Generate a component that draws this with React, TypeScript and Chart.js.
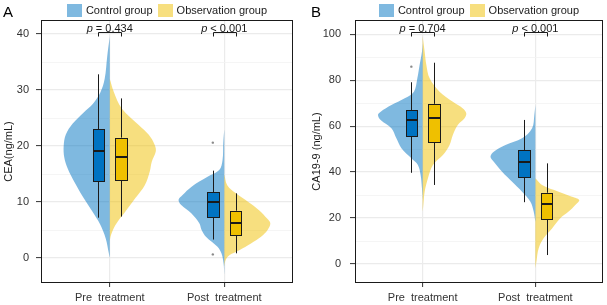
import React, { useEffect, useRef } from 'react';
import { Chart, registerables } from 'chart.js';
Chart.register(...registerables);

// ---------- shared ----------
const categories = ['Pre  treatment', 'Post  treatment'];
const groupNames = ['Control group', 'Observation group'];
const groupColors = ['#0073C2', '#EFC000'];
const groupViolinColors = ['rgba(0,115,194,0.5)', 'rgba(239,192,0,0.5)'];

// ---------- Panel A : CEA ----------
const ceaTickLabels = [0, 10, 20, 30, 40];
const ceaMinorTicks = [5, 15, 25, 35];
const ceaPLabels = ['= 0.434', '< 0.001'];

// violin outlines: levels (value) and half-widths (x units)
const ceaPreControlLevels = [39.5, 36, 32, 29.5, 27.5, 26, 24, 22, 20, 18, 16, 13.5, 11, 8.5, 6, 3.5, 1, 0];
const ceaPreControlWidths = [0, 0.022, 0.044, 0.083, 0.148, 0.227, 0.323, 0.384, 0.402, 0.397, 0.367, 0.306, 0.236, 0.157, 0.083, 0.035, 0.009, 0];
const ceaPreObsLevels = [32, 29.7, 26.7, 23.75, 22.0, 20.2, 19.0, 17.2, 15.4, 13.0, 10.7, 8.3, 5.9, 4.1, 3.0];
const ceaPreObsWidths = [0, 0.035, 0.105, 0.253, 0.341, 0.393, 0.402, 0.367, 0.349, 0.306, 0.224, 0.137, 0.05, 0.011, 0];
const ceaPostControlLevels = [23, 20.5, 17.5, 15.7, 14.5, 12.7, 11.25, 10.4, 9.5, 8.0, 6.2, 5.0, 3.8, 2.0, 0.8, -1, -3];
const ceaPostControlWidths = [0, 0.009, 0.015, 0.044, 0.146, 0.288, 0.364, 0.399, 0.378, 0.288, 0.218, 0.198, 0.16, 0.059, 0.024, 0.006, 0];
const ceaPostObsLevels = [15, 13, 11.5, 10, 8.5, 7, 6.2, 5.0, 3.8, 2.6, 1.4, 0.5, -0.3, -1.5];
const ceaPostObsWidths = [0, 0.026, 0.105, 0.21, 0.306, 0.376, 0.402, 0.378, 0.321, 0.233, 0.131, 0.044, 0.013, 0];

// boxplots: [lower whisker, q1, median, q3, upper whisker]
const ceaPreControlBox = [7.2, 13.75, 19.1, 23.0, 32.8];
const ceaPreObsBox = [7.4, 13.9, 18.1, 21.5, 28.5];
const ceaPostControlBox = [3.3, 7.4, 10.05, 11.7, 15.6];
const ceaPostObsBox = [0.84, 4.1, 6.2, 8.45, 11.55];
const ceaPostControlOutliers = [20.6, 0.65];

// ---------- Panel B : CA19-9 ----------
const caTickLabels = [0, 20, 40, 60, 80, 100];
const caMinorTicks = [10, 30, 50, 70, 90];
const caPLabels = ['= 0.704', '< 0.001'];

const caPreControlLevels = [96, 92.4, 86.6, 80.8, 75.0, 72.1, 69.2, 66.3, 64.9, 62.7, 59.1, 54.7, 50.4, 46.0, 43.1, 38.7, 33.0, 28];
const caPreControlWidths = [0, 0.006, 0.027, 0.047, 0.077, 0.159, 0.277, 0.372, 0.396, 0.372, 0.277, 0.233, 0.188, 0.1, 0.042, 0.018, 0.006, 0];
const caPreObsLevels = [99, 92.4, 86.6, 80.8, 75.0, 70.6, 67.7, 65.6, 63.4, 60.5, 56.2, 51.8, 47.4, 43.1, 37.3, 31.4, 25.6, 22.7];
const caPreObsWidths = [0, 0.018, 0.033, 0.062, 0.15, 0.268, 0.357, 0.387, 0.372, 0.312, 0.268, 0.239, 0.18, 0.091, 0.047, 0.018, 0.006, 0];
const caPostControlLevels = [69.2, 64.9, 59.1, 54.7, 51.8, 48.9, 46.7, 44.5, 40.2, 35.8, 31.5, 27.1, 22.8, 18.4];
const caPostControlWidths = [0, 0.009, 0.029, 0.118, 0.265, 0.369, 0.398, 0.369, 0.295, 0.206, 0.118, 0.044, 0.015, 0];
const caPostObsLevels = [37.3, 34.4, 31.5, 29.3, 27.9, 25.7, 22.8, 19.9, 15.5, 11.2, 6.8, 1.0, -1.9];
const caPostObsWidths = [0, 0.059, 0.206, 0.325, 0.389, 0.354, 0.295, 0.221, 0.148, 0.073, 0.029, 0.009, 0];

const caPreControlBox = [39.7, 55.9, 62.7, 66.9, 79.1];
const caPreObsBox = [34.4, 53.0, 63.4, 69.7, 87.6];
const caPostControlBox = [26.9, 38.0, 44.5, 49.6, 62.7];
const caPostObsBox = [3.9, 19.4, 26.1, 31.0, 43.8];
const caPreControlOutliers = [85.9];

const FONT = 'Liberation Sans, Arial, Helvetica, sans-serif';

type Violin = { cat: number; group: number; levels: number[]; widths: number[] };
type Box = { cat: number; group: number; stats: number[] };
type Outlier = { cat: number; group: number; values: number[] };

type Panel = {
  letter: string;
  yTitle: string;
  yMin: number;
  yMax: number;
  ticks: number[];
  minor: number[];
  pLabels: string[];
  bracketY: number;
  violins: Violin[];
  boxes: Box[];
  outliers: Outlier[];
  canvasLeft: number;
  canvasWidth: number;
  yAxisWidth: number;
  padRight: number;
  titlePad: number;
  tickPad: number;
  letterX: number;
};

const BOX_OFFSET = 0.1;
const BOX_WIDTH = 0.1;

const panels: Panel[] = [
  {
    letter: 'A',
    yTitle: 'CEA(ng/mL)',
    yMin: -4.46,
    yMax: 42.5,
    ticks: ceaTickLabels,
    minor: ceaMinorTicks,
    pLabels: ceaPLabels,
    bracketY: 40.3,
    violins: [
      { cat: 1, group: 0, levels: ceaPreControlLevels, widths: ceaPreControlWidths },
      { cat: 1, group: 1, levels: ceaPreObsLevels, widths: ceaPreObsWidths },
      { cat: 2, group: 0, levels: ceaPostControlLevels, widths: ceaPostControlWidths },
      { cat: 2, group: 1, levels: ceaPostObsLevels, widths: ceaPostObsWidths },
    ],
    boxes: [
      { cat: 1, group: 0, stats: ceaPreControlBox },
      { cat: 1, group: 1, stats: ceaPreObsBox },
      { cat: 2, group: 0, stats: ceaPostControlBox },
      { cat: 2, group: 1, stats: ceaPostObsBox },
    ],
    outliers: [{ cat: 2, group: 0, values: ceaPostControlOutliers }],
    canvasLeft: 0,
    canvasWidth: 300,
    yAxisWidth: 41,
    padRight: 7,
    titlePad: 2,
    tickPad: 7,
    letterX: 3,
  },
  {
    letter: 'B',
    yTitle: 'CA19-9 (ng/mL)',
    yMin: -8.27,
    yMax: 106.2,
    ticks: caTickLabels,
    minor: caMinorTicks,
    pLabels: caPLabels,
    bracketY: 100.9,
    violins: [
      { cat: 1, group: 0, levels: caPreControlLevels, widths: caPreControlWidths },
      { cat: 1, group: 1, levels: caPreObsLevels, widths: caPreObsWidths },
      { cat: 2, group: 0, levels: caPostControlLevels, widths: caPostControlWidths },
      { cat: 2, group: 1, levels: caPostObsLevels, widths: caPostObsWidths },
    ],
    boxes: [
      { cat: 1, group: 0, stats: caPreControlBox },
      { cat: 1, group: 1, stats: caPreObsBox },
      { cat: 2, group: 0, stats: caPostControlBox },
      { cat: 2, group: 1, stats: caPostObsBox },
    ],
    outliers: [{ cat: 1, group: 0, values: caPreControlOutliers }],
    canvasLeft: 300,
    canvasWidth: 307,
    yAxisWidth: 55,
    padRight: 4,
    titlePad: 10,
    tickPad: 9,
    letterX: 11,
  },
];

function crisp(v: number) {
  return Math.round(v) + 0.5;
}

function makeChart(canvas: HTMLCanvasElement, p: Panel) {
  const datasets: any[] = p.violins.map((v) => {
    const side = v.group === 0 ? -1 : 1;
    return {
      type: 'scatter',
      data: v.levels.map((lv, i) => ({ x: v.cat + side * v.widths[i], y: lv })),
      showLine: true,
      borderWidth: 0,
      borderColor: 'rgba(0,0,0,0)',
      pointRadius: 0,
      backgroundColor: groupViolinColors[v.group],
      fill: 'shape',
      tension: 0.35,
    };
  });
  p.outliers.forEach((o) => {
    const side = o.group === 0 ? -1 : 1;
    datasets.push({
      type: 'scatter',
      data: o.values.map((val) => ({ x: o.cat + side * BOX_OFFSET, y: val })),
      pointRadius: 1.2,
      pointBackgroundColor: '#8a8a8a',
      pointBorderWidth: 0,
      showLine: false,
    });
  });

  const allTicks = [...p.ticks, ...p.minor].sort((a, b) => a - b);
  const isMajor = (v: number) => p.ticks.includes(v);

  const overlay = {
    id: 'overlay',
    afterDatasetsDraw(chart: any) {
      const ctx = chart.ctx;
      const xs = chart.scales.x;
      const ys = chart.scales.y;
      ctx.save();
      // boxplots
      p.boxes.forEach((b) => {
        const side = b.group === 0 ? -1 : 1;
        const c = b.cat + side * BOX_OFFSET;
        const xl = Math.round(xs.getPixelForValue(c - BOX_WIDTH / 2));
        const xr = Math.round(xs.getPixelForValue(c + BOX_WIDTH / 2));
        const xc = crisp(xs.getPixelForValue(c));
        const [lo, q1, med, q3, hi] = b.stats;
        ctx.strokeStyle = '#1a1a1a';
        ctx.lineWidth = 1;
        ctx.beginPath();
        ctx.moveTo(xc, ys.getPixelForValue(hi));
        ctx.lineTo(xc, ys.getPixelForValue(q3));
        ctx.moveTo(xc, ys.getPixelForValue(q1));
        ctx.lineTo(xc, ys.getPixelForValue(lo));
        ctx.stroke();
        const yt = Math.round(ys.getPixelForValue(q3));
        const yb = Math.round(ys.getPixelForValue(q1));
        ctx.fillStyle = groupColors[b.group];
        ctx.fillRect(xl, yt, xr - xl, yb - yt);
        ctx.strokeRect(xl + 0.5, yt + 0.5, xr - xl, yb - yt);
        ctx.lineWidth = 2;
        ctx.beginPath();
        const ym = Math.round(ys.getPixelForValue(med));
        ctx.moveTo(xl, ym);
        ctx.lineTo(xr + 1, ym);
        ctx.stroke();
      });
      ctx.restore();
    },
    afterDraw(chart: any) {
      const ctx = chart.ctx;
      const area = chart.chartArea;
      const xs = chart.scales.x;
      const ys = chart.scales.y;
      ctx.save();
      // panel border
      ctx.strokeStyle = '#1a1a1a';
      ctx.lineWidth = 1;
      ctx.strokeRect(Math.round(area.left) + 0.5, Math.round(area.top) + 0.5, Math.round(area.right - area.left) - 1, Math.round(area.bottom - area.top) - 1);

      // p-value brackets
      const by = crisp(ys.getPixelForValue(p.bracketY));
      p.pLabels.forEach((lab, i) => {
        const cat = i + 1;
        const x1 = crisp(xs.getPixelForValue(cat - BOX_OFFSET));
        const x2 = crisp(xs.getPixelForValue(cat + BOX_OFFSET));
        ctx.strokeStyle = '#1a1a1a';
        ctx.lineWidth = 1;
        ctx.beginPath();
        ctx.moveTo(x1, by + 4);
        ctx.lineTo(x1, by);
        ctx.lineTo(x2, by);
        ctx.lineTo(x2, by + 4);
        ctx.stroke();
        ctx.fillStyle = '#1a1a1a';
        ctx.textBaseline = 'alphabetic';
        ctx.textAlign = 'left';
        const itFont = `italic 11px ${FONT}`;
        const nFont = `11px ${FONT}`;
        ctx.font = itFont;
        const wp = ctx.measureText('p').width;
        ctx.font = nFont;
        const rest = ' ' + lab;
        const wr = ctx.measureText(rest).width;
        const cx = xs.getPixelForValue(cat);
        const sx = cx - (wp + wr) / 2;
        ctx.font = itFont;
        ctx.fillText('p', sx, by - 1);
        ctx.font = nFont;
        ctx.fillText(rest, sx + wp, by - 1);
      });

      // legend
      ctx.font = `11px ${FONT}`;
      const keyW = 15;
      const keyH = 13;
      const gapKT = 4;
      const gapItems = 5;
      const tw = groupNames.map((n) => ctx.measureText(n).width);
      const total = keyW + gapKT + tw[0] + gapItems + keyW + gapKT + tw[1];
      let lx = (area.left + area.right) / 2 - total / 2;
      groupNames.forEach((n, i) => {
        ctx.fillStyle = groupViolinColors[i];
        ctx.fillRect(Math.round(lx), 4, keyW, keyH);
        ctx.fillStyle = '#1a1a1a';
        ctx.textBaseline = 'middle';
        ctx.fillText(n, lx + keyW + gapKT, 11);
        lx += keyW + gapKT + tw[i] + gapItems;
      });

      // panel letter
      ctx.font = `15px ${FONT}`;
      ctx.textBaseline = 'alphabetic';
      ctx.fillStyle = '#000';
      ctx.fillText(p.letter, p.letterX, 17);
      ctx.restore();
    },
  };

  return new Chart(canvas, {
    type: 'scatter',
    data: { datasets },
    plugins: [overlay],
    options: {
      animation: false,
      responsive: false,
      devicePixelRatio: 1,
      layout: { padding: { top: 20, right: p.padRight, left: 0, bottom: 0 } },
      plugins: { legend: { display: false }, tooltip: { enabled: false } },
      scales: {
        x: {
          type: 'linear',
          min: 0.4,
          max: 2.6,
          afterBuildTicks: (s: any) => {
            s.ticks = categories.map((_, i) => ({ value: i + 1 }));
          },
          afterFit: (s: any) => {
            s.height = 22;
          },
          border: { display: false },
          grid: {
            color: '#ebebeb',
            lineWidth: 1.2,
            drawTicks: true,
            tickLength: 4,
            tickColor: '#333',
            tickWidth: 1,
          },
          ticks: {
            callback: (v: any) => categories[Math.round(Number(v)) - 1],
            maxRotation: 0,
            autoSkip: false,
            padding: 4,
            color: '#333',
            font: { family: FONT, size: 11 },
          },
        },
        y: {
          type: 'linear',
          min: p.yMin,
          max: p.yMax,
          afterBuildTicks: (s: any) => {
            s.ticks = allTicks.map((v) => ({ value: v }));
          },
          afterFit: (s: any) => {
            s.width = p.yAxisWidth;
          },
          border: { display: false },
          title: {
            display: true,
            text: p.yTitle,
            color: '#1a1a1a',
            font: { family: FONT, size: 11 },
            padding: { top: p.titlePad, bottom: 0 },
          },
          grid: {
            color: (c: any) => (isMajor(c.tick?.value) ? '#ebebeb' : '#f2f2f2'),
            lineWidth: (c: any) => (isMajor(c.tick?.value) ? 1.2 : 0.8),
            drawTicks: true,
            tickLength: 5,
            tickColor: (c: any) => (isMajor(c.tick?.value) ? '#333' : 'rgba(0,0,0,0)'),
            tickWidth: 1,
          },
          ticks: {
            callback: (v: any) => (isMajor(Number(v)) ? String(v) : ''),
            autoSkip: false,
            padding: p.tickPad,
            color: '#333',
            font: { family: FONT, size: 11 },
          },
        },
      },
    } as any,
  });
}

function PanelChart({ panel }: { panel: Panel }) {
  const ref = useRef<HTMLCanvasElement | null>(null);
  useEffect(() => {
    if (!ref.current) return;
    const chart = makeChart(ref.current, panel);
    return () => chart.destroy();
  }, [panel]);
  return (
    <canvas
      ref={ref}
      width={panel.canvasWidth}
      height={305}
      style={{ position: 'absolute', left: panel.canvasLeft, top: 0, width: panel.canvasWidth, height: 305 }}
    />
  );
}

export default function App() {
  return (
    <div style={{ position: 'absolute', left: 0, top: 0, width: 607, height: 305, background: '#fff' }}>
      {panels.map((p) => (
        <PanelChart key={p.letter} panel={p} />
      ))}
    </div>
  );
}
